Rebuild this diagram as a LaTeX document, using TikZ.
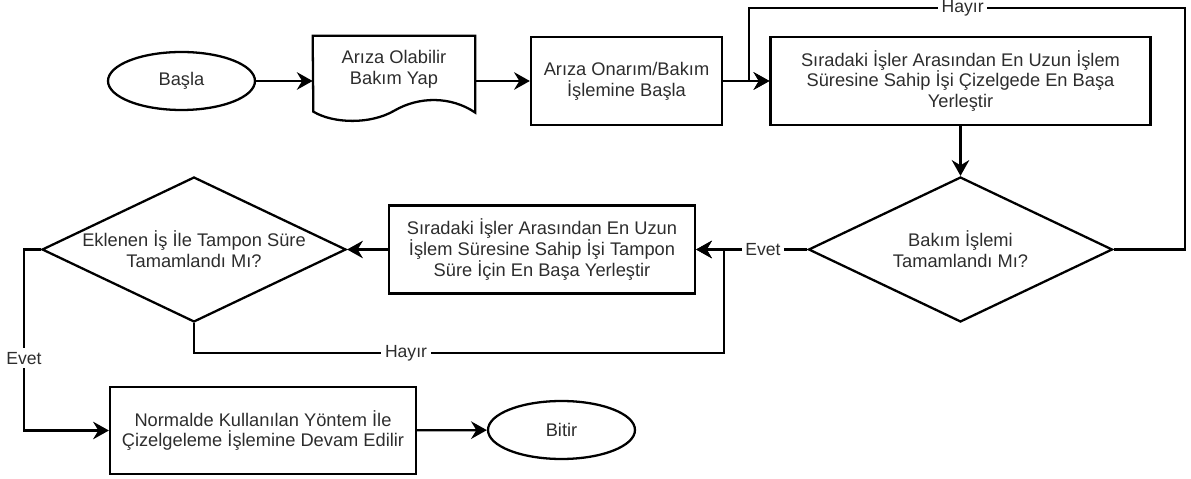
\documentclass[tikz,border=0pt]{standalone}
\usepackage{fontspec}
\setmainfont{Liberation Sans}
\usetikzlibrary{shapes.geometric,arrows.meta}

\begin{document}
\begin{tikzpicture}[x=0.02cm,y=-0.02cm]
    % set up colours and styles
    \definecolor{yazi}{RGB}{45,45,45}
    \tikzstyle{every node}=[font=\fontsize{10.4}{11.9}\selectfont, text=yazi]
    \tikzstyle{kutu}=[draw=black, line width=1.3pt, rectangle, align=center, minimum height=1.76cm]
    \tikzstyle{uc}=[draw=black, line width=1.3pt, ellipse, minimum width=2.94cm, minimum height=1.16cm]
    \tikzstyle{karar}=[draw=black, line width=1.3pt, diamond, minimum width=6.08cm, minimum height=2.9cm, inner sep=0pt]
    \tikzstyle{cizgi}=[line width=1.3pt]
    \tikzstyle{ok}=[line width=1.3pt, -{Stealth[length=9pt,width=10pt,inset=3pt]}]
    \tikzstyle{etiket}=[fill=white, inner sep=2pt, font=\fontsize{10}{11}\selectfont]

    \useasboundingbox (0,0) rectangle (1191,479);

    % top row
    \node[uc] (basla) at (181.5,81) {Başla};
    \node[minimum width=3.24cm, minimum height=1.32cm, align=center, inner sep=0pt] (ariza) at (394,69) {Arıza Olabilir\\Bakım Yap};
    \draw[cizgi] (ariza.north west) -- (ariza.north east) -- ++(0,77)
        .. controls +(-25,-17) and +(24,-14) .. ++(-81,-2)
        .. controls +(-24,14) and +(20,12) .. ++(-81,1) -- cycle;
    \node[kutu, minimum width=3.82cm] (onarim) at (626.5,81) {Arıza Onarım/Bakım\\İşlemine Başla};
    \node[kutu, minimum width=7.6cm] (siradaki) at (960.5,81) {Sıradaki İşler Arasından En Uzun İşlem\\Süresine Sahip İşi Çizelgede En Başa\\Yerleştir};

    % middle row
    \node[karar, label={[align=center]center:{Bakım İşlemi\\Tamamlandı Mı?}}] (bakim) at (960.5,249.5) {};
    \node[kutu, minimum width=6.12cm] (tampon) at (542,249.5) {Sıradaki İşler Arasından En Uzun\\İşlem Süresine Sahip İşi Tampon\\Süre İçin En Başa Yerleştir};
    \node[karar, label={[align=center]center:{Eklenen İş İle Tampon Süre\\Tamamlandı Mı?}}] (eklenen) at (194,249.5) {};

    % bottom row
    \node[kutu, minimum width=6.12cm, minimum height=1.74cm] (normal) at (263,430.5) {Normalde Kullanılan Yöntem İle\\Çizelgeleme İşlemine Devam Edilir};
    \node[uc] (bitir) at (561.5,430) {Bitir};

    % corners of the loops
    \coordinate (sagust) at (1185,8);
    \coordinate (solust) at (749,8);
    \coordinate (altsag) at (724,353);
    \coordinate (solkenar) at (24,249.5);

    % connectors
    \draw[ok] (basla) -- (basla -| ariza.west);
    \draw[ok] (ariza.east |- onarim) -- (onarim);
    \draw[ok] (onarim) -- (siradaki);
    \draw[ok] (siradaki) -- (bakim);
    \draw[ok] (bakim.east) -| (sagust) -- node[etiket, pos=0.51] {Hayır} (solust) |- (siradaki.west);
    \draw[ok] (bakim.west) -- node[etiket, pos=0.4] {Evet} (tampon.east);
    \draw[ok] (tampon) -- (eklenen);
    \draw[ok] (eklenen.south) |- node[etiket, pos=0.7] {Hayır} (altsag) |- (tampon.east);
    \draw[ok] (eklenen.west) -- (solkenar) |- node[etiket, pos=0.3] {Evet} (normal.west);
    \draw[ok] (normal) -- (bitir);

  \end{tikzpicture}
\end{document}
